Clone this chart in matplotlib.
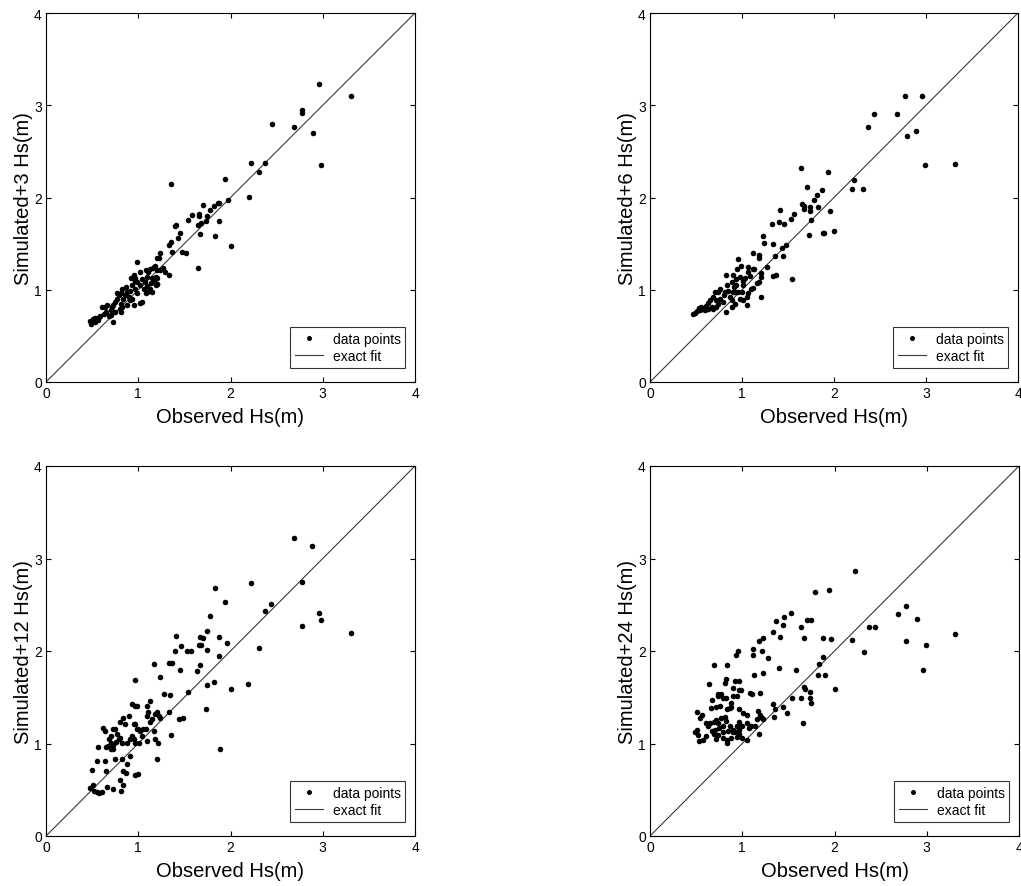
import matplotlib
matplotlib.use("Agg")
import matplotlib.pyplot as plt
import numpy as np

plt.rcParams['font.family'] = ['Liberation Sans', 'DejaVu Sans']

# ---- data: (observed, simulated) pairs ----
obs_3 = [3.31, 2.96, 2.78, 2.78, 2.69, 2.89, 2.98, 2.45, 2.37, 2.22, 2.31, 2.20, 1.94, 1.97, 2.00,
         1.88, 1.86, 1.88, 1.83, 1.82, 1.78, 1.74, 1.73, 1.70, 1.68, 1.66, 1.66, 1.67, 1.65, 1.65,
         1.58, 1.54, 1.35, 1.41, 1.40, 1.45, 1.43, 1.52, 1.47, 1.36, 1.33, 1.37, 1.33, 1.24, 1.22,
         1.20, 1.18, 1.17, 1.27, 1.20, 1.20, 1.19,
         0.99, 0.95, 0.96, 0.99, 1.02, 1.02, 1.04, 1.08, 1.11, 1.13, 1.16, 1.09, 1.07, 1.09, 1.06,
         1.08, 1.04, 1.02, 1.14, 1.15, 1.19, 0.96, 0.93, 0.91, 0.88, 0.90, 0.86, 0.84, 0.87, 0.95,
         0.88, 0.81, 0.79, 0.77, 0.75, 0.73, 0.72, 0.81, 0.70, 0.66, 0.65, 0.63, 0.59, 0.57, 0.53,
         0.51, 0.48, 0.49, 0.53, 0.56, 0.73, 0.68, 0.71, 0.75, 0.80, 0.82, 0.91, 0.93, 0.99, 1.20,
         1.20, 1.09, 1.13, 1.15, 0.61, 0.64, 0.77, 0.81, 0.82, 0.92, 0.97, 1.17, 1.24, 1.29]
sim_3 = [3.10, 3.23, 2.95, 2.92, 2.76, 2.70, 2.35, 2.80, 2.37, 2.37, 2.28, 2.01, 2.20, 1.97, 1.47,
         1.94, 1.94, 1.75, 1.58, 1.91, 1.86, 1.80, 1.75, 1.92, 1.72, 1.80, 1.82, 1.60, 1.70, 1.24,
         1.81, 1.76, 2.15, 1.70, 1.69, 1.61, 1.56, 1.40, 1.41, 1.52, 1.48, 1.41, 1.16, 1.40, 1.34,
         1.34, 1.26, 1.25, 1.24, 1.21, 1.06, 1.14,
         1.30, 1.16, 1.13, 1.08, 1.05, 1.19, 1.12, 1.21, 1.19, 1.22, 1.24, 1.14, 1.08, 1.04, 1.01,
         0.97, 0.87, 0.86, 1.07, 1.13, 1.05, 1.01, 1.05, 0.99, 0.98, 0.92, 0.94, 0.90, 1.03, 0.84,
         0.83, 0.85, 0.94, 0.90, 0.87, 0.83, 0.81, 0.76, 0.78, 0.83, 0.76, 0.74, 0.72, 0.70, 0.69,
         0.68, 0.66, 0.63, 0.65, 0.67, 0.65, 0.72, 0.73, 0.76, 0.79, 0.81, 0.89, 0.90, 0.96, 1.13,
         1.06, 0.98, 1.01, 0.98, 0.81, 0.81, 0.96, 0.96, 1.01, 1.13, 1.10, 1.10, 1.21, 1.19]

obs_6 = [3.32, 2.99, 2.96, 2.77, 2.69, 2.44, 2.37, 2.79, 2.89, 2.22, 2.20, 2.32, 1.94, 1.64, 1.71,
         1.87, 1.82, 1.78, 1.83, 1.74, 1.74, 1.65, 1.67, 1.67, 1.75, 1.73, 1.96, 2.00, 1.88, 1.89,
         1.57, 1.53, 1.41, 1.40, 1.46, 1.33, 1.23, 1.24, 1.34, 1.48, 1.44, 1.45, 1.36, 1.12, 1.19,
         1.18, 1.27, 1.34, 1.37, 1.54, 1.21, 1.21, 1.21, 1.13, 1.12, 1.07, 1.12, 1.16, 1.18, 1.05,
         0.96, 0.99, 0.94, 0.92,
         0.83, 0.90, 0.98, 1.01, 0.94, 1.03, 1.01, 1.00, 0.98, 1.01, 0.96, 0.92, 0.90, 0.87, 0.85,
         0.81, 0.80, 0.76, 0.72, 0.71, 0.69, 0.65, 0.63, 0.61, 0.58, 0.54, 0.51, 0.49, 0.47, 0.53,
         0.55, 0.60, 0.67, 0.72, 0.74, 0.79, 0.83, 0.89, 0.89, 0.76, 0.74, 0.84, 0.89, 0.91, 0.95,
         1.07, 1.09, 1.10, 1.07, 1.05, 0.63, 0.68]
sim_6 = [2.36, 2.35, 3.10, 3.10, 2.90, 2.91, 2.76, 2.67, 2.72, 2.19, 2.09, 2.09, 2.28, 2.32, 2.11,
         2.08, 2.03, 1.97, 1.90, 1.90, 1.85, 1.93, 1.91, 1.88, 1.76, 1.59, 1.85, 1.64, 1.62, 1.61,
         1.82, 1.77, 1.86, 1.73, 1.71, 1.71, 1.58, 1.51, 1.50, 1.48, 1.45, 1.37, 1.37, 1.40, 1.38,
         1.34, 1.25, 1.15, 1.16, 1.12, 1.18, 1.14, 0.92, 1.23, 1.22, 1.25, 1.02, 1.07, 1.08, 0.83,
         1.33, 1.26, 1.05, 0.85,
         1.16, 1.16, 1.14, 1.10, 1.12, 1.13, 1.05, 0.98, 0.90, 0.89, 0.98, 0.98, 0.98, 0.92, 0.99,
         0.98, 0.94, 0.90, 0.89, 0.98, 0.92, 0.89, 0.86, 0.82, 0.79, 0.78, 0.77, 0.75, 0.74, 0.80,
         0.81, 0.78, 0.81, 0.81, 0.85, 0.87, 0.76, 0.81, 0.89, 1.01, 0.98, 1.05, 1.08, 1.03, 1.22,
         1.19, 1.15, 1.01, 0.96, 0.92, 0.79, 0.79]

obs_12 = [3.31, 2.98, 2.96, 2.77, 2.78, 2.88, 2.69, 2.44, 2.37, 2.22, 2.31, 2.19, 2.00, 1.96, 1.94,
          1.88, 1.87, 1.83, 1.82, 1.89, 1.78, 1.74, 1.75, 1.74, 1.73, 1.70, 1.67, 1.66, 1.68, 1.67,
          1.64, 1.57, 1.53, 1.54, 1.46, 1.45, 1.41, 1.40, 1.37, 1.33, 1.34, 1.33, 1.28, 1.24, 1.17,
          1.36, 1.48, 1.44, 1.20, 1.21, 1.18, 1.17, 1.13, 1.09, 0.96, 1.00, 0.97, 0.88, 0.91, 0.87,
          0.83, 0.84, 0.81, 0.80, 0.73, 0.82, 0.75, 0.73, 0.66, 0.61, 0.57, 0.51, 0.50, 0.52, 0.55,
          0.48, 0.55, 0.56, 0.64, 0.65,
          0.62, 0.64, 0.65, 0.68, 0.70, 0.71, 0.73, 0.75, 0.77, 0.79, 0.76, 0.73, 0.70, 0.67, 0.80,
          0.82, 0.80, 0.84, 0.86, 0.90, 0.93, 0.97, 0.99, 0.95, 0.97, 0.99, 1.00, 1.02, 1.05, 1.08,
          1.09, 1.11, 1.13, 1.15, 1.18, 1.20, 1.22, 1.24, 0.93, 0.95, 0.97, 0.91, 0.88, 1.01, 1.04,
          1.09]
sim_12 = [2.20, 2.33, 2.41, 2.27, 2.75, 3.13, 3.22, 2.51, 2.43, 2.73, 2.03, 1.64, 1.59, 2.09, 2.53,
          1.95, 2.15, 2.68, 1.66, 0.94, 2.38, 2.22, 2.01, 1.63, 1.37, 2.14, 2.15, 2.06, 2.06, 1.85,
          1.78, 2.00, 2.00, 1.56, 2.05, 1.79, 2.16, 2.00, 1.87, 1.87, 1.52, 1.34, 1.54, 1.72, 1.86,
          1.09, 1.28, 1.26, 0.83, 1.01, 1.05, 1.14, 1.46, 1.41, 1.69, 0.67, 0.66, 0.78, 0.86, 0.68,
          0.70, 0.55, 0.49, 0.61, 0.51, 0.83, 0.83, 0.94, 0.53, 0.48, 0.47, 0.55, 0.71, 0.49, 0.48,
          0.52, 0.81, 0.96, 0.81, 0.70,
          1.17, 1.14, 0.96, 1.05, 1.01, 1.08, 1.16, 1.16, 1.10, 1.05, 1.02, 0.98, 0.94, 0.97, 1.06,
          1.01, 1.23, 1.28, 1.21, 1.30, 1.43, 1.41, 1.41, 1.21, 1.21, 1.16, 1.16, 1.14, 1.16, 1.16,
          1.30, 1.34, 1.23, 1.26, 1.32, 1.34, 1.30, 1.28, 1.08, 1.05, 1.01, 1.05, 1.01, 1.01, 1.08,
          1.03]

obs_24 = [3.31, 2.99, 2.96, 2.89, 2.78, 2.77, 2.69, 2.44, 2.37, 2.32, 2.22, 2.19, 2.00, 1.96, 1.94,
          1.88, 1.87, 1.90, 1.82, 1.83, 1.79, 1.74, 1.70, 1.67, 1.64, 1.73, 1.73, 1.74, 1.64, 1.67,
          1.68, 1.66, 1.58, 1.54, 1.48, 1.44, 1.36, 1.34, 1.33, 1.53, 1.45, 1.44, 1.37, 1.33, 1.41,
          1.40, 1.28, 1.23, 1.18, 1.21, 1.12, 1.12, 1.23, 1.13, 1.19, 1.11, 1.08, 0.95, 0.93, 0.83,
          0.69, 0.64, 0.82, 0.92, 0.96, 0.97, 0.99, 0.90, 0.94, 0.90, 0.81, 0.79, 0.74, 0.74, 0.77,
          0.82, 0.67, 0.66, 0.72, 0.76, 0.83, 0.87, 0.88, 0.88, 0.97, 1.01, 1.05, 1.17, 1.19, 1.21,
          1.23, 1.18, 1.16, 1.14, 1.10, 1.05, 1.07, 1.05, 1.00, 0.96, 0.97, 1.00, 0.97, 0.94, 0.90,
          0.87, 0.85, 0.90, 0.93, 0.94, 0.88, 0.83, 0.84, 0.79, 0.79, 0.81, 0.77, 0.82, 0.79, 0.75,
          0.70, 0.69, 0.67, 0.65, 0.61, 0.63, 0.69, 0.72, 0.74, 0.61, 0.72, 0.57, 0.53, 0.52, 0.51,
          0.49, 0.51, 0.56, 0.54, 0.74]
sim_24 = [2.18, 2.07, 1.80, 2.35, 2.49, 2.11, 2.40, 2.26, 2.26, 1.99, 2.86, 2.12, 1.59, 2.13, 2.66,
          2.14, 1.94, 1.74, 1.74, 1.86, 2.64, 2.34, 2.34, 2.14, 2.26, 1.56, 1.49, 1.44, 1.49, 1.61,
          1.59, 1.22, 1.80, 1.49, 1.33, 1.39, 1.37, 1.29, 1.43, 2.41, 2.37, 2.28, 2.32, 2.21, 2.15,
          1.82, 1.92, 2.14, 2.11, 2.00, 2.02, 1.96, 1.76, 1.74, 1.55, 1.53, 1.55, 2.00, 1.96, 1.85,
          1.85, 1.64, 1.70, 1.68, 1.68, 1.58, 1.58, 1.60, 1.51, 1.51, 1.65, 1.49, 1.51, 1.53, 1.53,
          1.49, 1.47, 1.38, 1.40, 1.41, 1.37, 1.38, 1.40, 1.44, 1.37, 1.33, 1.31, 1.35, 1.31, 1.28,
          1.27, 1.10, 1.27, 1.19, 1.19, 1.22, 1.17, 1.04, 1.06, 1.10, 1.15, 1.19, 1.23, 1.19, 1.15,
          1.19, 1.13, 1.12, 1.12, 1.07, 1.06, 1.04, 1.01, 1.06, 1.12, 1.29, 1.28, 1.24, 1.19, 1.17,
          1.15, 1.10, 1.13, 1.22, 1.22, 1.19, 1.23, 1.25, 1.22, 1.08, 1.05, 1.04, 1.03, 1.09, 1.15,
          1.12, 1.34, 1.31, 1.28, 1.09]

panels = [
    (obs_3, sim_3, "Simulated+3 Hs(m)"),
    (obs_6, sim_6, "Simulated+6 Hs(m)"),
    (obs_12, sim_12, "Simulated+12 Hs(m)"),
    (obs_24, sim_24, "Simulated+24 Hs(m)"),
]
fit_line = [0, 4]
ticks = [0, 1, 2, 3, 4]
xlabel = "Observed Hs(m)"

W, H = 1021, 887
fig = plt.figure(figsize=(W / 100, H / 100), dpi=100)
fig.patch.set_facecolor('white')

# axes boxes in pixel coordinates (left, top, right, bottom)
boxes = [(46, 14, 415, 383), (650, 14, 1018, 383),
         (46, 467, 415, 837), (650, 467, 1019, 837)]

for (obs, sim, ylab), (l, t, r, b) in zip(panels, boxes):
    ax = fig.add_axes([l / W, (H - b) / H, (r - l) / W, (b - t) / H])
    ax.plot(obs, sim, 'o', color='black', markersize=4.0, markeredgewidth=0,
            label='data points', zorder=3)
    ax.plot(fit_line, fit_line, '-', color='#3a3a3a', linewidth=0.8,
            label='exact fit', zorder=2)
    ax.set_xlim(0, 4)
    ax.set_ylim(0, 4)
    ax.set_xticks(ticks)
    ax.set_yticks(ticks)
    ax.tick_params(direction='in', length=3.5, width=0.8, top=True, right=True,
                   labelsize=10, pad=3, colors='black')
    for sp in ax.spines.values():
        sp.set_linewidth(0.8)
        sp.set_color('black')
    ax.set_xlabel(xlabel, fontsize=14.5, labelpad=5)
    ax.set_ylabel(ylab, fontsize=14.5, labelpad=1)
    leg = ax.legend(loc='lower right', bbox_to_anchor=(0.974, 0.039), borderaxespad=0,
                    fontsize=10, frameon=True, fancybox=False, edgecolor='black',
                    handlelength=2.0, handletextpad=0.7, labelspacing=0.2,
                    borderpad=0.35, markerscale=0.9, numpoints=1)
    leg.get_frame().set_linewidth(0.8)

fig.savefig('out.png', dpi=100, facecolor='white')
